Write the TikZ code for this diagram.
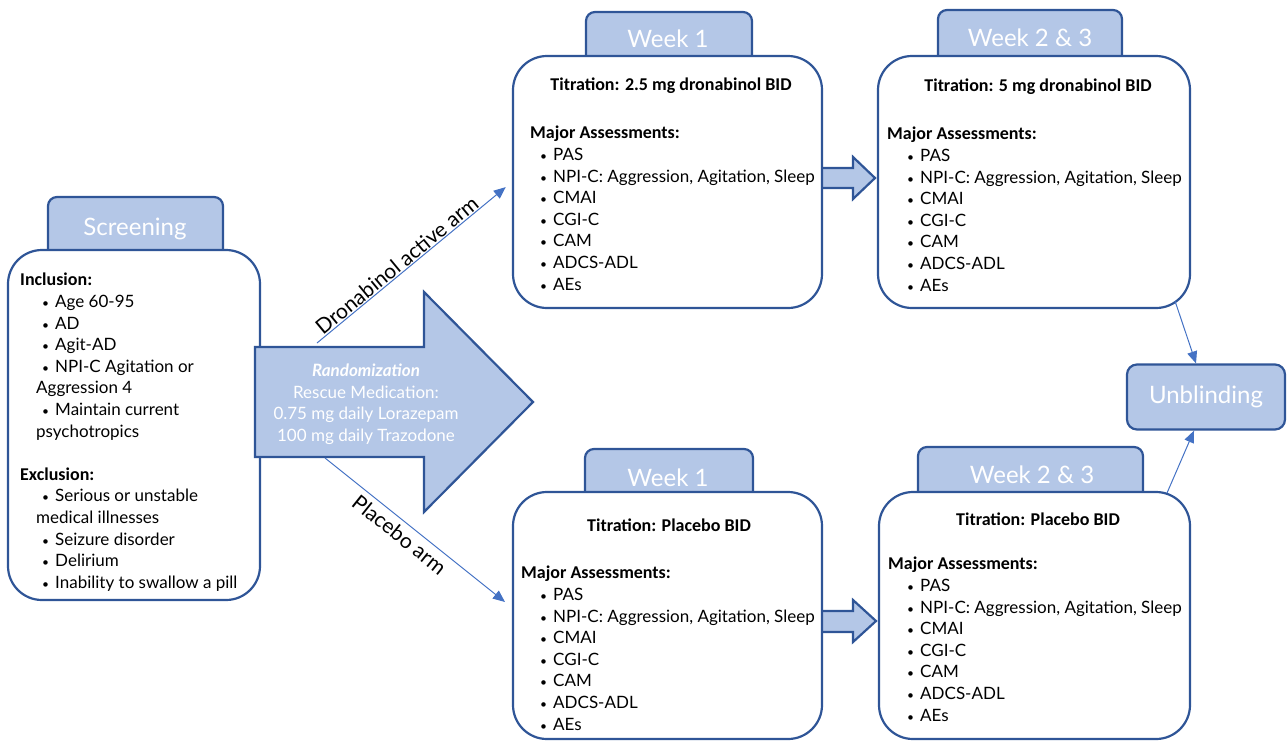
\documentclass[tikz,border=0pt]{standalone}
\usepackage{fontspec}
\setmainfont{Lato}
\newfontfamily\headfont{Carlito}
\usetikzlibrary{arrows.meta}
\definecolor{tabfill}{HTML}{B4C7E7}
\definecolor{tabline}{HTML}{2F5597}
\definecolor{armblue}{HTML}{4472C4}
\newlength\bulskip
\newcommand{\bul}{\hspace*{\bulskip}\makebox[13pt][l]{\fontsize{12}{12}\selectfont\textbullet}}
\newcommand{\hd}[1]{{\headfont\bfseries\fontsize{18}{21.6}\selectfont #1}}
\newcommand{\assesslist}{\hd{Major Assessments:}\\
  \bul PAS\\ \bul NPI-C: Aggression, Agitation, Sleep\\ \bul CMAI\\
  \bul CGI-C\\ \bul CAM\\ \bul ADCS-ADL\\ \bul AEs}

\begin{document}
\begin{tikzpicture}[x=1pt, y=-1pt,
    tab/.style={draw=tabline, fill=tabfill, line width=2.2pt, rounded corners=9pt},
    panel/.style={draw=tabline, fill=white, line width=2.2pt, rounded corners=34pt, inner sep=0pt},
    bigarrow/.style={draw=tabline, fill=tabfill, line width=2.2pt},
    tabtext/.style={text=white, font=\fontsize{24}{28}\selectfont},
    body/.style={anchor=north west, inner sep=0pt, align=left, font=\fontsize{17}{21.6}\selectfont},
    title/.style={font=\headfont\bfseries\fontsize{18}{21}\selectfont},
    arm/.style={draw=armblue, line width=1pt, -{Triangle[length=12pt,width=10pt]}},
    armtext/.style={font=\fontsize{21}{24}\selectfont, sloped}]
  \useasboundingbox (0,0) rectangle (1287,742);

  % tabs
  \filldraw[tab] (48,262) |- (223,197) -- (223,262);
  \filldraw[tab] (586,68) |- (752,12) -- (752,68);
  \filldraw[tab] (938,68) |- (1122,10) -- (1122,68);
  \filldraw[tab] (585,505) |- (753,449) -- (753,505);
  \filldraw[tab] (918,505) |- (1143,447) -- (1143,505);
  \node[tabtext] (scrtab) at (135,229) {Screening};
  \node[tabtext] (w1atab) at (668,39) {Week 1};
  \node[tabtext] (w2atab) at (1030,38) {Week 2 \& 3};
  \node[tabtext] (w1btab) at (668,478) {Week 1};
  \node[tabtext] (w2btab) at (1032,475) {Week 2 \& 3};

  % small arrows between the weeks
  \filldraw[bigarrow] (812,168) -- (853,168) -- (853,157) -- (875,178) -- (853,199) -- (853,188) -- (812,188) -- cycle;
  \filldraw[bigarrow] (812,611) -- (853,611) -- (853,600) -- (876,621) -- (853,642) -- (853,632) -- (812,632) -- cycle;

  % panels
  \node[panel, minimum width=252, minimum height=350] (scr) at (134,425) {};
  \node[panel, minimum width=309, minimum height=252] (w1a) at (667.5,182) {};
  \node[panel, minimum width=312, minimum height=252] (w2a) at (1034,182) {};
  \node[panel, minimum width=309, minimum height=247] (w1b) at (667.5,615.5) {};
  \node[panel, minimum width=311, minimum height=247] (w2b) at (1034.5,615.5) {};

  \node[body] (scrtxt) at (20,273) {\global\bulskip=22pt\hd{Inclusion:}\\
    \bul Age 60-95\\ \bul AD\\ \bul Agit-AD\\ \bul NPI-C Agitation or\\
    \hspace*{16pt}Aggression 4\\ \bul Maintain current\\ \hspace*{16pt}psychotropics\\[21.6pt]
    \hd{Exclusion:}\\ \bul Serious or unstable\\ \hspace*{16pt}medical illnesses\\
    \bul Seizure disorder\\ \bul Delirium\\ \bul Inability to swallow a pill};

  \node[title] (w1aname) at (671,86) {Titration: 2.5 mg dronabinol BID};
  \node[body] (w1alist) at (530,126) {\global\bulskip=10pt\assesslist};
  \node[title] (w2aname) at (1038,87) {Titration: 5 mg dronabinol BID};
  \node[body] (w2alist) at (887,127) {\global\bulskip=20pt\assesslist};
  \node[title] (w1bname) at (669,525) {Titration: Placebo BID};
  \node[body] (w1blist) at (521,566) {\global\bulskip=19pt\assesslist};
  \node[title] (w2bname) at (1038,519) {Titration: Placebo BID};
  \node[body] (w2blist) at (888,557) {\global\bulskip=19pt\assesslist};

  % randomization
  \filldraw[bigarrow] (255,347) -- (424,347) -- (424,292) -- (533,402) -- (424,512) -- (424,457) -- (255,457) -- cycle;
  \node[text=white, align=center, font=\fontsize{17}{21.5}\selectfont] (rand) at (366,404)
    {{\bfseries\itshape Randomization}\\ Rescue Medication:\\ 0.75 mg daily Lorazepam\\ 100 mg daily Trazodone};

  % unblinding
  \node[tab, rounded corners=10pt, minimum width=158, minimum height=65, tabtext] (unbl) at (1206,397) {Unblinding};

  % arms
  \coordinate (dstart) at (317,343);
  \coordinate (pstart) at (325,458);
  \coordinate (pend) at (505,602);
  \coordinate (w2aout) at (1175,301);
  \coordinate (w2bout) at (1167,493);
  \draw[arm, shorten >=8pt] (dstart) -- node[armtext, above, inner sep=1pt, pos=0.44] (dlab) {Dronabinol active arm} (w1a.west);
  \draw[arm] (pstart) -- node[armtext, below, inner sep=5pt, pos=0.46] (plab) {Placebo arm} (pend);
  \draw[arm] (w2aout) -- ([xshift=-10pt]unbl.north);
  \draw[arm] (w2bout) -- ([xshift=-12pt]unbl.south);
\end{tikzpicture}
\end{document}
